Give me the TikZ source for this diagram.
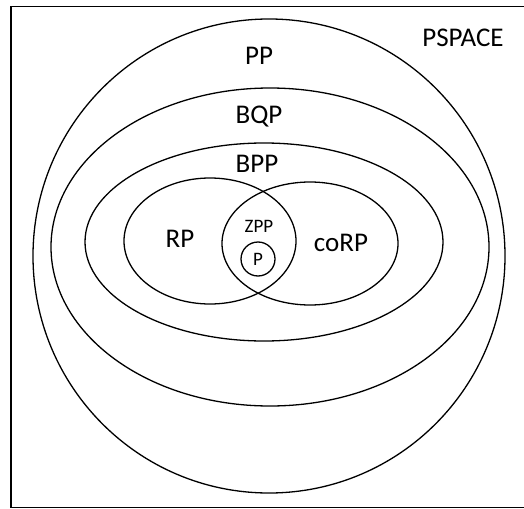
\documentclass[tikz,border=0pt]{standalone}
\usepackage{fontspec}
\setmainfont{Carlito}
\begin{document}
\begin{tikzpicture}[x=1pt,y=-1pt,
  set/.style={draw=black,line width=1.3pt},
  big/.style={font=\fontsize{27}{29}\selectfont,inner sep=0pt},
  small/.style={font=\fontsize{19}{21}\selectfont,inner sep=0pt}]
\useasboundingbox (0,0) rectangle (524,508);
\clip (0,0) rectangle (524,508);
\fill[white] (0,0) rectangle (524,508);
\draw[line width=1.8pt] (11,6.5) rectangle (540,507.5);
\draw[set] (269,256) ellipse [x radius=236, y radius=237];
\draw[set] (270,247) ellipse [x radius=219, y radius=159];
\draw[set] (264,242) ellipse [x radius=179, y radius=99];
\draw[set] (210,241) ellipse [x radius=86, y radius=63];
\draw[set] (310,243.5) ellipse [x radius=88, y radius=61.5];
\node[set,circle,minimum size=34pt,inner sep=0pt] (p) at (258,259) {};
\node[small] at (p) {P};
\node[big] (pspace) at (463,38) {PSPACE};
\node[big] (pp) at (259,56) {PP};
\node[big] (bqp) at (259,117) {BQP};
\node[big] (bpp) at (257,164) {BPP};
\node[big] (rp) at (180,239) {RP};
\node[big] (corp) at (341,243) {coRP};
\node[small] (zpp) at (259,226) {ZPP};
\end{tikzpicture}
\end{document}
